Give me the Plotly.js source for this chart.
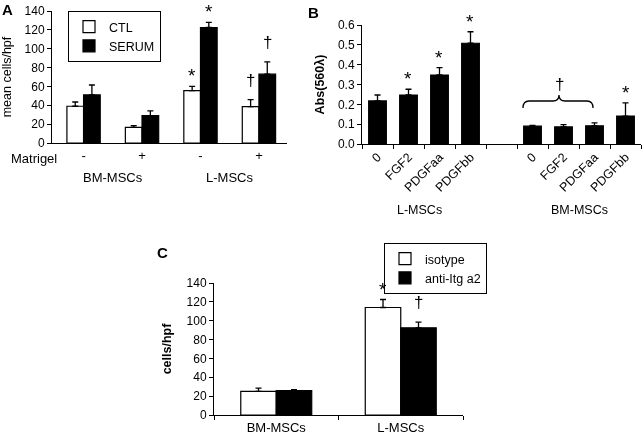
<!DOCTYPE html>
<html><head><meta charset="utf-8">
<script src="https://cdn.plot.ly/plotly-3.0.1.min.js"></script>
<style>
html,body{margin:0;padding:0;background:#fff}
#chart{will-change:transform}
#chart text{-webkit-font-smoothing:antialiased}
</style>
</head><body><div id="chart" style="width:642px;height:440px"></div>
<script>
// ---------- Panel A ----------
const catA = ["BM-MSCs -", "BM-MSCs +", "L-MSCs -", "L-MSCs +"];
const tickA = ["-", "+", "-", "+"];
const groupA = ["BM-MSCs", "L-MSCs"];
const ctlA = [39, 16.5, 55.5, 38.5];
const ctlErrA = [4.5, 2, 4.5, 7.5];
const serumA = [51, 29, 122.5, 73];
const serumErrA = [10.5, 5, 5.5, 13];
const ctlMarkA = ["", "", "*", "†"];
const serumMarkA = ["", "", "*", "†"];

// ---------- Panel B ----------
const catB = ["L 0", "L FGF2", "L PDGFaa", "L PDGFbb", "gap", "BM 0", "BM FGF2", "BM PDGFaa", "BM PDGFbb"];
const tickB = ["0", "FGF2", "PDGFaa", "PDGFbb", "", "0", "FGF2", "PDGFaa", "PDGFbb"];
const groupB = ["L-MSCs", "BM-MSCs"];
const absB = [0.217, 0.247, 0.348, 0.508, null, 0.09, 0.086, 0.092, 0.141];
const absErrB = [0.03, 0.029, 0.037, 0.058, null, 0.004, 0.012, 0.015, 0.066];
const markB = ["", "*", "*", "*", "", "", "", "", "*"];
const braceMarkB = "†";

// ---------- Panel C ----------
const catC = ["BM-MSCs", "L-MSCs"];
const isoC = [25, 114];
const isoErrC = [3.5, 8.5];
const antiC = [26, 92.5];
const antiErrC = [1, 6];
const isoMarkC = ["", "*"];
const antiMarkC = ["", "†"];

// ---------- helpers ----------
const W = 642, H = 440;
const px = x => x / W;
const py = y => 1 - y / H;
const FONT = "Liberation Sans, Arial, sans-serif";
const zeros = n => new Array(n).fill(0);
const BARGAP = 0.43;
const OFF = (1 - BARGAP) / 4;

function errY(arr) {
  return {type: "data", array: arr, arrayminus: zeros(arr.length), symmetric: false,
          color: "#000", thickness: 1.3, width: 3};
}
const outline = {color: "#000", width: 1.2};

const traces = [
  {type: "bar", name: "CTL", x: catA, y: ctlA, xaxis: "x", yaxis: "y", legend: "legend",
   marker: {color: "#fff", line: outline}, error_y: errY(ctlErrA)},
  {type: "bar", name: "SERUM", x: catA, y: serumA, xaxis: "x", yaxis: "y", legend: "legend",
   marker: {color: "#000", line: outline}, error_y: errY(serumErrA)},
  {type: "bar", name: "Abs", x: catB, y: absB, xaxis: "x2", yaxis: "y2", showlegend: false,
   marker: {color: "#000", line: outline}, error_y: errY(absErrB.map(v => v === null ? 0 : v))},
  {type: "bar", name: "isotype", x: catC, y: isoC, xaxis: "x3", yaxis: "y3", legend: "legend2",
   marker: {color: "#fff", line: outline}, error_y: errY(isoErrC)},
  {type: "bar", name: "anti-Itg a2", x: catC, y: antiC, xaxis: "x3", yaxis: "y3", legend: "legend2",
   marker: {color: "#000", line: outline}, error_y: errY(antiErrC)}
];

const annotations = [];
function mark(text, xref, yref, x, y) {
  if (!text) return;
  const dag = text === "†";
  annotations.push({text: text, xref: xref, yref: yref, x: x, y: y, showarrow: false,
    yanchor: "bottom", xanchor: "center", yshift: dag ? 8 : -2,
    font: {family: FONT, size: dag ? 17 : 19, color: "#000"}});
}
ctlMarkA.forEach((m, i) => mark(m, "x", "y", i - OFF, ctlA[i] + ctlErrA[i]));
serumMarkA.forEach((m, i) => mark(m, "x", "y", i + OFF, serumA[i] + serumErrA[i]));
markB.forEach((m, i) => mark(m, "x2", "y2", i, absB[i] + absErrB[i]));
isoMarkC.forEach((m, i) => mark(m, "x3", "y3", i - OFF, isoC[i] + isoErrC[i]));
antiMarkC.forEach((m, i) => mark(m, "x3", "y3", i + OFF, antiC[i] + antiErrC[i]));

const txt = (size, bold) => ({family: FONT, size: size, color: "#000", weight: bold ? "bold" : "normal"});
// panel letters
[["A", 7, 9], ["B", 313, 13], ["C", 163, 253]].forEach(([t, x, y]) =>
  annotations.push({text: "<b>" + t + "</b>", xref: "paper", yref: "paper", x: px(x), y: py(y),
    showarrow: false, xanchor: "center", yanchor: "middle", font: txt(15, true)}));
// panel A
annotations.push({text: "Matrigel", xref: "paper", yref: "paper", x: px(9), y: py(158),
  showarrow: false, xanchor: "left", yanchor: "middle", font: txt(13)});
groupA.forEach((g, i) => annotations.push({text: g, xref: "x", yref: "paper", x: 2 * i + 0.5, y: py(177),
  showarrow: false, xanchor: "center", yanchor: "middle", font: txt(13)}));
// panel B
[[groupB[0], 419], [groupB[1], 579]].forEach(([g, x]) => annotations.push({text: g, xref: "paper", yref: "paper",
  x: px(x), y: py(210), showarrow: false, xanchor: "center", yanchor: "middle", font: txt(12.5)}));
annotations.push({text: braceMarkB, xref: "paper", yref: "paper", x: px(559), y: py(84),
  showarrow: false, xanchor: "center", yanchor: "middle", font: txt(17)});

const P = (x, y) => px(x).toFixed(5) + "," + py(y).toFixed(5);
const bracePath = "M" + P(523, 108) + " Q" + P(523, 101) + " " + P(529, 101) + " L" + P(553, 101) +
  " Q" + P(559, 101) + " " + P(559, 95) + " Q" + P(559, 101) + " " + P(565, 101) + " L" + P(587, 101) +
  " Q" + P(593, 101) + " " + P(593, 108);

const yax = (anchor, dom, range, dtick, fmt, title, bold, standoff) => ({
  anchor: anchor, domain: dom, range: range, dtick: dtick, tick0: 0, tickformat: fmt, showline: true,
  linecolor: "#000", linewidth: 1,
  ticks: "outside", ticklen: 4, tickcolor: "#000", showgrid: false, zeroline: false, fixedrange: true,
  tickfont: txt(12), automargin: false,
  title: {text: title, font: txt(12.5, bold), standoff: standoff}
});

const layout = {
  width: W, height: H, margin: {l: 0, r: 0, t: 0, b: 0},
  paper_bgcolor: "#fff", plot_bgcolor: "#fff",
  barmode: "group", bargap: BARGAP, bargroupgap: 0,
  font: {family: FONT, color: "#000"},
  xaxis: {domain: [px(52), px(287)], anchor: "y", type: "category", categoryorder: "array", categoryarray: catA,
    range: [-0.54, 3.48], tickmode: "array", tickvals: catA, ticktext: tickA, ticks: "", showline: true,
    linecolor: "#000", linewidth: 1, showgrid: false, zeroline: false, tickfont: txt(13), automargin: false},
  yaxis: yax("x", [py(143), py(11)], [0, 140], 20, "d", "mean cells/hpf", false, 14),
  xaxis2: {domain: [px(362), px(641)], anchor: "y2", type: "category", categoryorder: "array", categoryarray: catB,
    range: [-0.5, 8.5], tickmode: "array", tickvals: catB, ticktext: tickB, ticks: "outside", tickson: "boundaries",
    ticklen: 4, tickcolor: "#000", tickangle: -45, showline: true, linecolor: "#000", linewidth: 1,
    showgrid: false, zeroline: false, tickfont: txt(12.5), automargin: false},
  yaxis2: yax("x2", [py(144), py(25)], [0, 0.6], 0.1, ".1f", "Abs(560λ)", true, 10),
  xaxis3: {domain: [px(214), px(463)], anchor: "y3", type: "category", categoryorder: "array", categoryarray: catC,
    range: [-0.5, 1.5], ticks: "outside", tickson: "boundaries", ticklen: 4, tickcolor: "#000",
    showline: true, linecolor: "#000", linewidth: 1, showgrid: false, zeroline: false, tickfont: txt(13), automargin: false},
  yaxis3: yax("x3", [py(415), py(283)], [0, 140], 20, "d", "cells/hpf", true, 12),
  legend: {x: px(68), y: py(11), xanchor: "left", yanchor: "top", bgcolor: "#fff", bordercolor: "#000", borderwidth: 1,
    font: txt(12.5), itemwidth: 30, tracegroupgap: 0},
  legend2: {x: px(384), y: py(243), xanchor: "left", yanchor: "top", bgcolor: "#fff", bordercolor: "#000", borderwidth: 1,
    font: txt(12.5), itemwidth: 30, tracegroupgap: 0},
  showlegend: true,
  annotations: annotations,
  shapes: [{type: "path", xref: "paper", yref: "paper", path: bracePath, line: {color: "#000", width: 1.3}}]
};

Plotly.newPlot("chart", traces, layout, {staticPlot: true, displayModeBar: false});
</script></body></html>
